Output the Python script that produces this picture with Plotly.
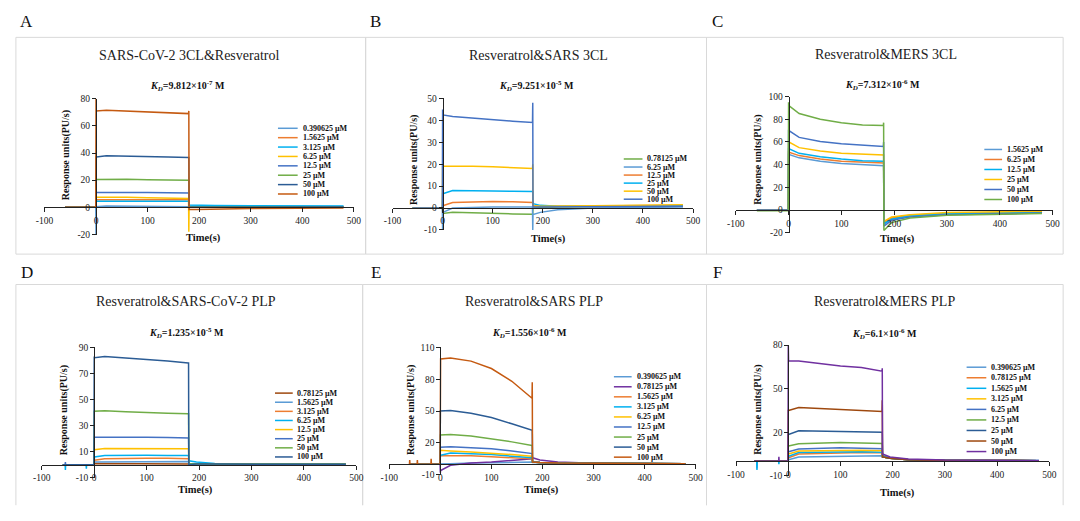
import plotly.graph_objects as go

W, H = 1080, 521

# ---------------- data ----------------
TIME = [-60, -0.5, 0, 0.5, 20, 60, 100, 140, 179.5, 180, 180.5, 195, 230, 300, 480]
# bottom-row runs include short injection artefacts before t=0
D_TIME = [-60, -55.5, -55, -54.5, -15.5, -15, -14.5, -0.5, 0, 0.5, 20, 60, 100, 140, 179.5, 180, 180.5, 195, 230, 300, 480]
E_TIME = [-60, -60.5, -60, -59.5, -45.5, -45, -44.5, -18.5, -18, -17.5, -0.5, 0, 0.5, 20, 60, 100, 140, 179.5, 180, 180.5, 195, 230, 300, 480]
F_TIME = [-65, -60.5, -60, -59.5, -18.5, -18, -17.5, -0.5, 0, 0.5, 20, 60, 100, 140, 179.5, 180, 180.5, 195, 230, 300, 480]

XTICKS = [-100, 0, 100, 200, 300, 400, 500]
XTICK_TEXT = ["-100", "0", "100", "200", "300", "400", "500"]

A_TITLE = "SARS-CoV-2 3CL&Resveratrol"
A_KD = ("9.812", "-7")
A_CONC = ["0.390625 µM", "1.5625 µM", "3.125 µM", "6.25 µM", "12.5 µM", "25 µM", "50 µM", "100 µM"]
A_RU = [
    [0, 0, -20, 0.5, 1.0, 0.8, 0.7, 0.6, 0.5, 0.5, 0.8, 0.8, 0.8, 0.7, 0.6],
    [0, 0, 5.5, 5.5, 6.0, 5.8, 5.6, 5.5, 5.5, 5.5, 0.5, 0.5, 0.4, 0.3, 0.2],
    [0, 0, 4.5, 4.5, 5.0, 5.0, 4.8, 4.6, 4.5, 4.5, 1.8, 1.6, 1.4, 1.2, 1.0],
    [0, 0, 7.5, 7.5, 8.0, 7.5, 7.0, 6.8, 6.5, -18, 0.5, 0.5, 0.4, 0.3, 0.3],
    [0, 0, 11, 11, 11.5, 11.2, 11.0, 10.8, 10.5, 10.5, 0.3, 0.3, 0.3, 0.3, 0.3],
    [0, 0, 20.5, 20.5, 21, 20.7, 20.4, 20.2, 20, 20, 0.2, 0.2, 0.2, 0.2, 0.2],
    [0, 0, 37, 37, 38, 37.5, 37.2, 37, 36.7, 36.7, 0, 0, 0, 0.1, 0.2],
    [0, 0, 80, 71, 71.5, 70.8, 70.2, 69.5, 69, 71, -1.5, -1.5, -1.2, -0.8, -0.5],
]
A_YTICKS = [-20, 0, 20, 40, 60, 80]

B_TITLE = "Resveratrol&SARS 3CL"
B_KD = ("9.251", "-5")
B_CONC = ["0.78125 µM", "6.25 µM", "12.5 µM", "25 µM", "50 µM", "100 µM"]
B_RU = [
    [0, 0, -1, -2.5, -2.0, -2.3, -2.5, -2.7, -2.8, -2.8, 0, 0.2, 0.4, 0.6, 0.8],
    [0, 0, -10, -2, 0, 0.3, 0.4, 0.4, 0.4, -10, -3, -2, -0.8, 0, 0.5],
    [0, 0, 1, 1, 2.5, 2.7, 3.0, 2.8, 2.5, 2.5, 1.0, 0.8, 0.8, 0.9, 1.2],
    [0, 0, 6.5, 6.5, 8, 8, 7.8, 7.6, 7.5, 7.5, 2, 1.2, 0.8, 0.8, 1.0],
    [0, 0, 19, 19, 19.3, 19, 18.8, 18.3, 18, 20, 1, 0.8, 0.8, 1.0, 1.5],
    [0, 0, 45, 42.5, 41.8, 41, 40.3, 39.6, 39, 48, 0.5, 0.5, 0.5, 0.6, 0.8],
]
B_YTICKS = [-10, 0, 10, 20, 30, 40, 50]

C_TITLE = "Resveratrol&MERS 3CL"
C_KD = ("7.312", "-6")
C_CONC = ["1.5625 µM", "6.25 µM", "12.5 µM", "25 µM", "50 µM", "100 µM"]
C_RU = [
    [0, 0, 50, 49, 46, 43, 41, 40, 39, 39, -12, -8, -5, -3.5, -2.5],
    [0, 0, 52, 51, 48, 45, 43, 42, 41.5, 41.5, -11, -7, -4.5, -3, -2],
    [0, 0, 55, 54, 50, 47, 45, 43.5, 43, 43, -12, -8, -5, -3, -2],
    [0, 0, 61, 60, 55, 52, 50, 49, 48.5, 48.5, -10, -6, -4, -2, -1],
    [0, 0, 70, 70, 64, 60.5, 58.5, 57, 56, 60, -14, -9, -6, -4, -2.5],
    [-0.5, -0.5, 95, 92, 85, 80, 77, 75, 74.5, 77, -18, -11, -7, -4.5, -3],
]
C_YTICKS = [-20, 0, 20, 40, 60, 80, 100]

D_TITLE = "Resveratrol&SARS-CoV-2 PLP"
D_KD = ("1.235", "-5")
D_CONC = ["0.78125 µM", "1.5625 µM", "3.125 µM", "6.25 µM", "12.5 µM", "25 µM", "50 µM", "100 µM"]
D_RU = [
    [0, 0, 0, 0, 0, 0, 0, 0, 1, 1, 1, 1, 1, 0.8, 0.6, 0.6, 0.3, 0.3, 0.3, 0.3, 0.3],
    [0, 0, 0, 0, 0, 0, 0, 0, 2, 2, 2.5, 2.5, 2.5, 2.5, 2.5, 2.5, 0.5, 0.5, 0.5, 0.5, 0.5],
    [0, 0, 0, 0, 0, 0, 0, 0, 3, 3.5, 4.5, 5, 5, 5, 4.5, 4.5, 1, 0.8, 0.5, 0.5, 0.5],
    [0, 0, -4, 0, 0, -3, 0, 0, 6, 6, 7, 7.2, 7.2, 7, 7, 7, 3, 2, 1, 0.5, 0.3],
    [0, 0, 0, 0, 0, 0, 0, 0, 11, 11.5, 12.5, 12.5, 12.5, 12.3, 12.2, 12.2, 1, 0.8, 0.5, 0.5, 0.5],
    [0, 0, 2, 0, 0, 0, 0, 0, 21, 21, 21.5, 21.2, 21, 20.8, 20.5, 20.5, 1, 0.8, 0.5, 0.5, 0.5],
    [0, 0, 0, 0, 0, 0, 0, 0, 41, 41, 41.3, 40.5, 39.8, 39.5, 39, 39, 1, 0.8, 0.5, 0.5, 0.5],
    [0, 0, 0, 0, 0, 0, 0, 0, 83, 82, 83, 82, 80.5, 79.5, 78, 78, 0, 0.5, 0.5, 0.3, 0.3],
]
D_YTICKS = [-10, 10, 30, 50, 70, 90]

E_TITLE = "Resveratrol&SARS PLP"
E_KD = ("1.556", "-6")
E_CONC = ["0.390625 µM", "0.78125 µM", "1.5625 µM", "3.125 µM", "6.25 µM", "12.5 µM", "25 µM", "50 µM", "100 µM"]
E_RU = [
    [0, 0, 0, 0, 0, 0, 0, 0, 0, 0, 0, 0, 0, 0.5, 1, 1.5, 2, 2, 2, 1.5, 1.2, 1, 0.8, 0.5],
    [0, 0, 0, 0, 0, 0, 0, 0, 0, 0, 0, -8, -6, -1, 1, 2, 3.5, 5, 5, 6, 4, 2, 0.8, 0.5],
    [0, 0, 0, 0, 0, 0, 0, 0, 0, 0, 0, 8, 8, 8.5, 8, 7, 6, 5, 5, 2, 1.5, 1, 0.8, 0.5],
    [0, 0, 0, 0, 0, 0, 0, 0, 0, 0, 0, 8.5, 8.5, 10.5, 10, 9, 7.5, 6, 6, 2, 1.5, 1, 0.8, 0.5],
    [0, 0, 0, 0, 0, 0, 0, 0, 0, 0, 0, 13, 13, 12.5, 11.5, 10.5, 9, 7.5, 7.5, 2, 1.5, 1, 0.8, 0.5],
    [0, 0, 0, 0, 0, 0, 0, 0, 0, 0, 0, 16, 16, 16.5, 15.5, 14.5, 12.5, 10, 10, 2, 1.5, 1, 0.8, 0.5],
    [0, 0, 0, 0, 0, 0, 0, 0, 0, 0, 0, 27.5, 27.5, 28, 26.5, 24, 21, 17.5, 17.5, 2, 1.5, 1, 0.8, 0.5],
    [0, 0, 0, 0, 0, 0, 0, 0, 0, 0, 0, 50, 50, 50.5, 48, 44, 38, 32, 32, 2, 1.5, 1, 0.8, 0.5],
    [0, 0, 4, 0, 0, 4, 0, 0, 5, 0, 0, 99, 99, 100, 97, 90, 78, 62, 77, 2, 1.5, 1, 0.8, 0.5],
]
E_YTICKS = [-10, 20, 50, 80, 110]

F_TITLE = "Resveratrol&MERS PLP"
F_KD = ("6.1", "-6")
F_CONC = ["0.390625 µM", "0.78125 µM", "1.5625 µM", "3.125 µM", "6.25 µM", "12.5 µM", "25 µM", "50 µM", "100 µM"]
F_RU = [
    [0, 0, -5, 0, 0, 0, 0, 0, 1, 1, 3, 3.2, 3.5, 3.8, 3.8, 3.8, 3, 2, 1, 0.6, 0.4],
    [0, 0, 0, 0, 0, 0, 0, 0, 2.5, 2.5, 5, 5.5, 6, 6, 5.8, 5.8, 3, 2, 1, 0.6, 0.4],
    [0, 0, -6, 0, 0, -2, 0, 0, 3.5, 3.5, 6, 6.2, 6.5, 6.5, 6.2, 6.2, 4, 2.5, 1.2, 0.7, 0.5],
    [0, 0, 0, 0, 0, 0, 0, 0, 5, 5, 7, 7.3, 7.5, 7.5, 7.3, 7.3, 3, 2, 1, 0.6, 0.4],
    [0, 0, 0, 0, 0, 0, 0, 0, 6.5, 6.5, 8.5, 9, 9.3, 9, 8.7, 8.7, 3, 2, 1, 0.6, 0.4],
    [0, 0, 0, 0, 0, 0, 0, 0, 10.5, 10.5, 12, 12.5, 13, 12.5, 12.3, 12.3, 3, 2, 1, 0.6, 0.4],
    [0, 0, 0, 0, 0, 0, 0, 0, 18.5, 18.5, 21, 20.8, 20.5, 20.2, 20, 20, 3, 2, 1, 0.6, 0.4],
    [0, 0, 0, 0, 0, 0, 0, 0, 35, 35, 37, 36.3, 35.5, 34.8, 34.2, 42, 3, 2, 1, 0.6, 0.4],
    [0, 0, 0, 0, 0, 3, 0, 0, 80, 69, 69, 67, 65.5, 64.5, 62, 64, 5, 3, 1.5, 0.8, 0.5],
]
F_YTICKS = [-10, 20, 50, 80]

# ---------------- styles ----------------
LB, OR, CY, GO, BL, GR, DB, BR, DBR, PU = ("#5B9BD5", "#ED7D31", "#00B0F0", "#FFC000", "#4472C4",
                                          "#70AD47", "#2B5C95", "#C55A11", "#9E480E", "#7030A0")
A_COL = [LB, OR, CY, GO, BL, GR, DB, BR]
B_COL = [GR, LB, OR, CY, GO, BL]
C_COL = [LB, OR, CY, GO, BL, GR]
D_COL = [DBR, LB, OR, CY, GO, BL, GR, DB]
E_COL = [LB, PU, OR, CY, GO, BL, GR, DB, BR]
F_COL = [LB, OR, CY, GO, BL, GR, DB, DBR, PU]

SERIF = "Liberation Serif, Times New Roman, serif"

# layout spec (pixel geometry)
P = [
    dict(letter="A", lxy=(18, 17), title=A_TITLE, kd=A_KD, conc=A_CONC, t=TIME, ru=A_RU, col=A_COL, yt=A_YTICKS,
         yr=(-20, 80), xpx=(36, 350), ypx=(234, 95.5), txy=(183, 51), kxy=(181, 83),
         xtxy=(197, 238), ytxy=(58, 153), leg=(273, 293, 296, 125.7, 9.57)),
    dict(letter="B", lxy=(372, 17), title=B_TITLE, kd=B_KD, conc=B_CONC, t=TIME, ru=B_RU, col=B_COL, yt=B_YTICKS,
         yr=(-10, 50), xpx=(389.3, 694.3), ypx=(229.3, 95.3), txy=(537, 51), kxy=(535, 83),
         xtxy=(548, 239), ytxy=(411, 158), leg=(624, 643, 646, 157, 8.2)),
    dict(letter="C", lxy=(719, 17), title=C_TITLE, kd=C_KD, conc=C_CONC, t=TIME, ru=C_RU, col=C_COL, yt=C_YTICKS,
         yr=(-20, 100), xpx=(737.7, 1059.3), ypx=(232.3, 93.3), txy=(890, 50), kxy=(887, 82),
         xtxy=(902, 239), ytxy=(760, 158), leg=(990, 1008, 1011, 147.3, 10.2)),
    dict(letter="D", lxy=(18, 273), title=D_TITLE, kd=D_KD, conc=D_CONC, t=D_TIME, ru=D_RU, col=D_COL, yt=D_YTICKS,
         yr=(-10, 90), xpx=(33.3, 352.5), ypx=(482, 349), txy=(180, 302), kxy=(180, 334),
         xtxy=(189, 494), ytxy=(56, 413), leg=(270, 288, 290, 395.7, 9.3)),
    dict(letter="E", lxy=(373, 273), title=E_TITLE, kd=E_KD, conc=E_CONC, t=E_TIME, ru=E_RU, col=E_COL, yt=E_YTICKS,
         yr=(-10, 110), xpx=(386, 697), ypx=(479, 349), txy=(533, 302), kxy=(528, 334),
         xtxy=(540, 495), ytxy=(408, 413), leg=(614, 632, 635, 379, 10.25)),
    dict(letter="F", lxy=(719, 273), title=F_TITLE, kd=F_KD, conc=F_CONC, t=F_TIME, ru=F_RU, col=F_COL, yt=F_YTICKS,
         yr=(-10, 80), xpx=(738, 1056), ypx=(480, 346.7), txy=(889, 302), kxy=(889, 335),
         xtxy=(902, 498), ytxy=(760, 413), leg=(972, 992, 995, 369.3, 10.75)),
]

def fx(px):
    return px / W

def fy(py):
    return 1 - py / H

fig = go.Figure()
annotations = []
shapes = []
layout_axes = {}

def note(text, x, y, size, angle=0, xanchor="center", color="#111"):
    annotations.append(dict(text=text, x=fx(x), y=fy(y), xref="paper", yref="paper", textangle=angle,
                            xanchor=xanchor, yanchor="middle", showarrow=False,
                            font=dict(family=SERIF, size=size, color=color)))

for i, p in enumerate(P):
    n = "" if i == 0 else str(i + 1)
    xa, ya = "x" + n, "y" + n
    y0, y1 = p["yr"]
    xl, xr = p["xpx"]
    yb, ytp = p["ypx"]
    zero_py = yb - (0 - y0) / (y1 - y0) * (yb - ytp)
    zero_px = xl + (0 - (-100)) / 600 * (xr - xl)
    layout_axes["xaxis" + n] = dict(
        domain=[fx(xl), fx(xr)], range=[-100, 500], anchor="free", position=fy(zero_py),
        showline=True, linecolor="#222", linewidth=1, ticks="outside", ticklen=4, tickcolor="#222",
        tickvals=XTICKS, ticktext=XTICK_TEXT, showgrid=False, zeroline=False,
        tickfont=dict(family=SERIF, size=9.5, color="#222"), fixedrange=True)
    layout_axes["yaxis" + n] = dict(
        domain=[fy(yb), fy(ytp)], range=[y0, y1], anchor="free", position=fx(zero_px),
        showline=True, linecolor="#222", linewidth=1, ticks="outside", ticklen=4, tickcolor="#222",
        tickvals=p["yt"], ticktext=[str(v) for v in p["yt"]], showgrid=False, zeroline=False,
        tickfont=dict(family=SERIF, size=9.5, color="#222"), fixedrange=True)
    for name, vals, c in zip(p["conc"], p["ru"], p["col"]):
        fig.add_trace(go.Scatter(x=p["t"], y=vals, mode="lines", name=name, xaxis=xa, yaxis=ya,
                                 line=dict(color=c, width=1.5), showlegend=False, hoverinfo="skip"))
    note(p["letter"], *p["lxy"], 17)
    note(p["title"], *p["txy"], 14, color="#222")
    m, e = p["kd"]
    note(f"<b><i>K</i><sub><i>D</i></sub>={m}×10<sup>{e}</sup> M</b>", *p["kxy"], 10)
    note("<b>Time(s)</b>", *p["xtxy"], 10.5)
    note("<b>Response units(PU/s)</b>", *p["ytxy"], 10, angle=-90)
    lx0, lx1, ltx, ly0, ldy = p["leg"]
    for k, (name, c) in enumerate(zip(p["conc"], p["col"])):
        yy = ly0 + k * ldy
        shapes.append(dict(type="line", xref="paper", yref="paper", x0=fx(lx0), x1=fx(lx1), y0=fy(yy), y1=fy(yy),
                           line=dict(color=c, width=1.5)))
        note(f"<b>{name}</b>", ltx, yy, 8, xanchor="left")

# panel frames
BOX = "#D9D9D9"
for (x0, x1, y0, y1) in [(7, 362, 33, 254), (362, 708, 33, 254), (708, 1070, 33, 254)]:
    shapes.append(dict(type="rect", xref="paper", yref="paper", x0=fx(x0), x1=fx(x1), y0=fy(y1), y1=fy(y0),
                       line=dict(color=BOX, width=1), layer="below"))
for (x0, x1) in [(7, 359), (359, 708), (708, 1070)]:
    shapes.append(dict(type="path", xref="paper", yref="paper",
                       path=f"M {fx(x0)},{fy(510)} L {fx(x0)},{fy(285)} L {fx(x1)},{fy(285)} L {fx(x1)},{fy(510)}",
                       line=dict(color=BOX, width=1), layer="below"))

fig.update_layout(width=W, height=H, margin=dict(l=0, r=0, t=0, b=0), paper_bgcolor="white",
                  plot_bgcolor="rgba(0,0,0,0)", annotations=annotations, shapes=shapes, showlegend=False,
                  **layout_axes)
fig.write_html("out.html", config={"displayModeBar": False})
